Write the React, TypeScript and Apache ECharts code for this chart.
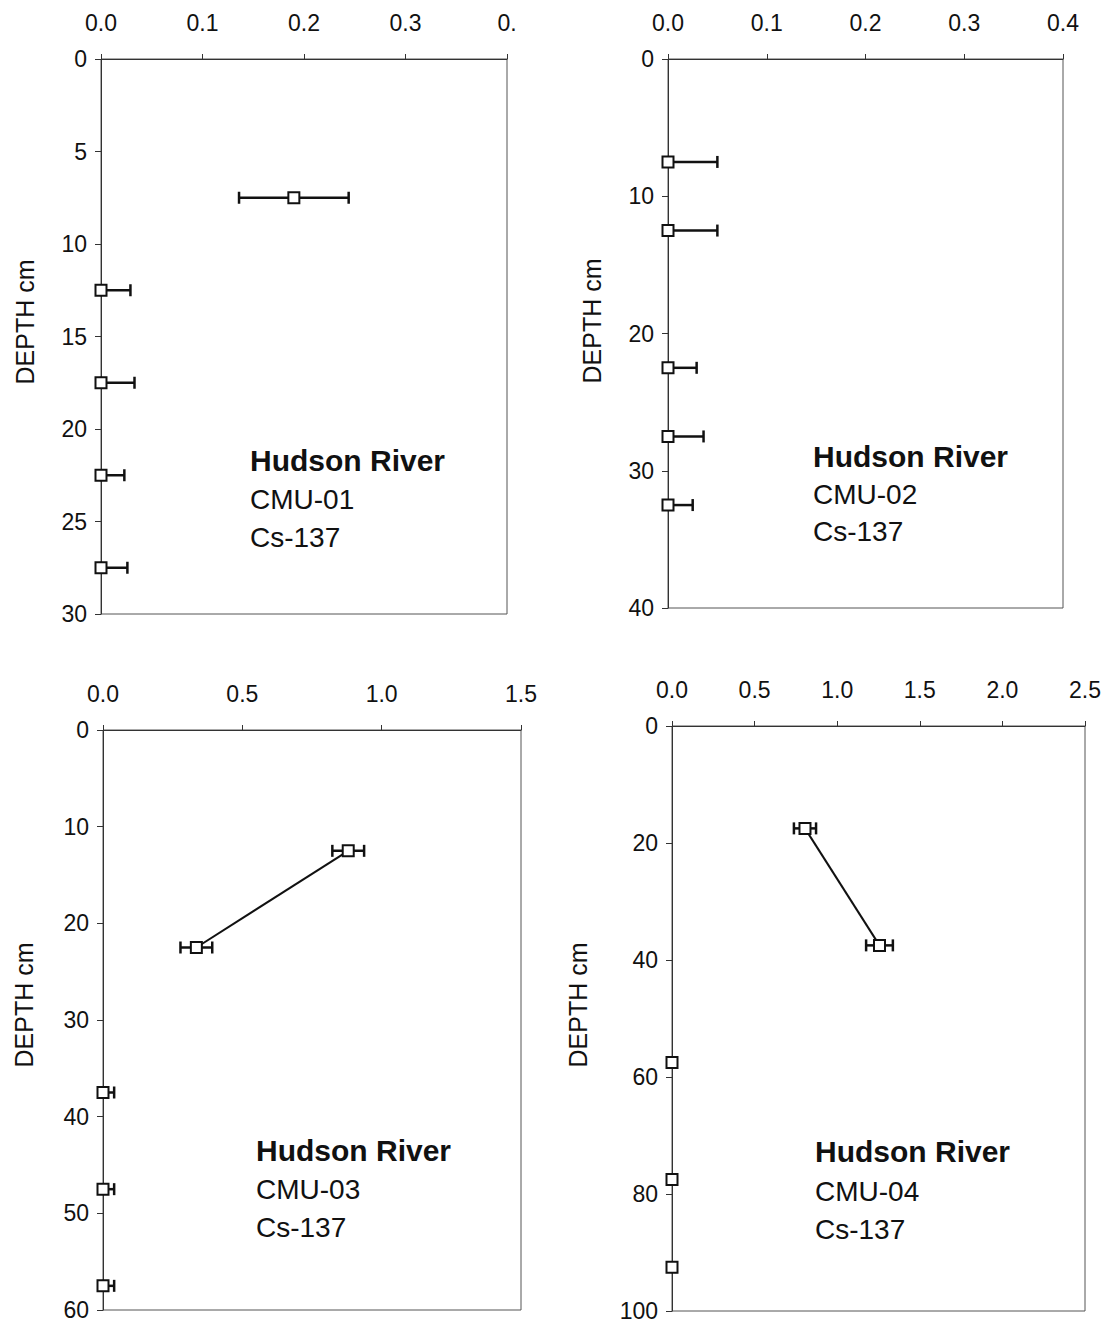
import React, { useEffect, useRef } from "react";
import * as echarts from "echarts";

// ---- Data ----
// Panel CMU-01
const depth1 = [7.5, 12.5, 17.5, 22.5, 27.5];
const cs1 = [0.19, 0, 0, 0, 0];
const err1 = [0.054, 0.029, 0.033, 0.023, 0.026];
const conn1 = [false, false, false, false, false];
const xTicks1 = ["0.0", "0.1", "0.2", "0.3", "0."];

// Panel CMU-02
const depth2 = [7.5, 12.5, 22.5, 27.5, 32.5];
const cs2 = [0, 0, 0, 0, 0];
const err2 = [0.05, 0.05, 0.029, 0.036, 0.025];
const conn2 = [false, false, false, false, false];
const xTicks2 = ["0.0", "0.1", "0.2", "0.3", "0.4"];

// Panel CMU-03
const depth3 = [12.5, 22.5, 37.5, 47.5, 57.5];
const cs3 = [0.88, 0.335, 0, 0, 0];
const err3 = [0.057, 0.057, 0.04, 0.04, 0.04];
const conn3 = [true, true, false, false, false];
const xTicks3 = ["0.0", "0.5", "1.0", "1.5"];

// Panel CMU-04
const depth4 = [17.5, 37.5, 57.5, 77.5, 92.5];
const cs4 = [0.805, 1.256, 0, 0, 0];
const err4 = [0.067, 0.081, 0.02, 0.02, 0.02];
const conn4 = [true, true, false, false, false];
const xTicks4 = ["0.0", "0.5", "1.0", "1.5", "2.0", "2.5"];

const siteTitle = "Hudson River";
const coreNames = ["CMU-01", "CMU-02", "CMU-03", "CMU-04"];
const isotope = "Cs-137";
const yAxisTitle = "DEPTH cm";

const FONT = "'Liberation Sans', Arial, Helvetica, sans-serif";

const panels = [
  {
    grid: { left: 101, top: 59, width: 406, height: 555 },
    xMax: 0.4, xInt: 0.1, yMax: 30, yInt: 5,
    depth: depth1, val: cs1, err: err1, conn: conn1, xTicks: xTicks1,
    nameX: 25, nameY: 322, textX: 250, textY: [460, 499, 537],
  },
  {
    grid: { left: 668, top: 59, width: 395, height: 549 },
    xMax: 0.4, xInt: 0.1, yMax: 40, yInt: 10,
    depth: depth2, val: cs2, err: err2, conn: conn2, xTicks: xTicks2,
    nameX: 592, nameY: 321, textX: 813, textY: [456, 494, 531],
  },
  {
    grid: { left: 103, top: 730, width: 418, height: 580 },
    xMax: 1.5, xInt: 0.5, yMax: 60, yInt: 10,
    depth: depth3, val: cs3, err: err3, conn: conn3, xTicks: xTicks3,
    nameX: 24, nameY: 1005, textX: 256, textY: [1150, 1189, 1227],
  },
  {
    grid: { left: 672, top: 726, width: 413, height: 585 },
    xMax: 2.5, xInt: 0.5, yMax: 100, yInt: 20,
    depth: depth4, val: cs4, err: err4, conn: conn4, xTicks: xTicks4,
    nameX: 578, nameY: 1005, textX: 815, textY: [1151, 1191, 1229],
  },
];

function buildOption() {
  const grids: any[] = [];
  const xAxes: any[] = [];
  const yAxes: any[] = [];
  const series: any[] = [];
  const graphics: any[] = [];

  panels.forEach((p, i) => {
    grids.push({
      ...p.grid,
      show: true,
      borderColor: "#555",
      borderWidth: 1,
      backgroundColor: "transparent",
    });
    xAxes.push({
      type: "value",
      gridIndex: i,
      position: "top",
      min: 0,
      max: p.xMax,
      interval: p.xInt,
      axisLine: { show: true, lineStyle: { color: "#333", width: 1 } },
      axisTick: { show: true, inside: false, length: 5, lineStyle: { color: "#333" } },
      splitLine: { show: false },
      axisLabel: {
        margin: 25,
        color: "#111",
        fontFamily: FONT,
        fontSize: 23,
        formatter: (_v: number, idx: number) => p.xTicks[idx] ?? "",
      },
    });
    yAxes.push({
      type: "value",
      gridIndex: i,
      inverse: true,
      min: 0,
      max: p.yMax,
      interval: p.yInt,
      axisLine: { show: true, lineStyle: { color: "#333", width: 1 } },
      axisTick: { show: true, inside: false, length: 6, lineStyle: { color: "#333" } },
      splitLine: { show: false },
      axisLabel: {
        margin: 14,
        color: "#111",
        fontFamily: FONT,
        fontSize: 23,
      },
    });

    const pts = p.depth.map((d, k) => [p.val[k], d]);
    const bars = p.depth.map((d, k) => [
      p.val[k],
      d,
      Math.max(0, p.val[k] - p.err[k]),
      p.val[k] + p.err[k],
    ]);
    const linePts = pts.filter((_, k) => p.conn[k]);

    if (linePts.length > 1) {
      series.push({
        type: "line",
        xAxisIndex: i,
        yAxisIndex: i,
        data: linePts,
        symbol: "none",
        lineStyle: { color: "#111", width: 2 },
        z: 2,
        silent: true,
      });
    }

    series.push({
      type: "custom",
      xAxisIndex: i,
      yAxisIndex: i,
      data: bars,
      encode: { x: 0, y: 1 },
      z: 3,
      silent: true,
      renderItem: (_params: any, api: any) => {
        const y = api.value(1);
        const a = api.coord([api.value(2), y]);
        const b = api.coord([api.value(3), y]);
        const h = 6;
        const st = { stroke: "#111", lineWidth: 2.5 };
        return {
          type: "group",
          children: [
            { type: "line", shape: { x1: a[0], y1: a[1], x2: b[0], y2: b[1] }, style: st },
            { type: "line", shape: { x1: a[0], y1: a[1] - h, x2: a[0], y2: a[1] + h }, style: st },
            { type: "line", shape: { x1: b[0], y1: b[1] - h, x2: b[0], y2: b[1] + h }, style: st },
          ],
        };
      },
    });

    series.push({
      type: "scatter",
      xAxisIndex: i,
      yAxisIndex: i,
      data: pts,
      symbol: "rect",
      symbolSize: 11,
      itemStyle: { color: "#ffffff", borderColor: "#111", borderWidth: 2, opacity: 1 },
      z: 4,
      silent: true,
    });

    graphics.push({
      type: "text",
      x: p.nameX,
      y: p.nameY,
      rotation: Math.PI / 2,
      style: {
        text: yAxisTitle,
        fontFamily: FONT,
        fontSize: 25,
        fill: "#111",
        align: "center",
        verticalAlign: "middle",
      },
    });
    const lines = [siteTitle, coreNames[i], isotope];
    lines.forEach((t, li) => {
      graphics.push({
        type: "text",
        x: p.textX,
        y: p.textY[li],
        style: {
          text: t,
          fontFamily: FONT,
          fontSize: li === 0 ? 30 : 28,
          fontWeight: li === 0 ? "bold" : "normal",
          fill: "#111",
          align: "left",
          verticalAlign: "middle",
        },
      });
    });
  });

  return {
    animation: false,
    backgroundColor: "#fff",
    grid: grids,
    xAxis: xAxes,
    yAxis: yAxes,
    series,
    graphic: graphics,
  };
}

export default function App() {
  const ref = useRef<HTMLDivElement>(null);
  useEffect(() => {
    if (!ref.current) return;
    const chart = echarts.init(ref.current, undefined, { renderer: "svg" });
    chart.setOption(buildOption() as any);
    return () => chart.dispose();
  }, []);
  return (
    <div
      ref={ref}
      style={{ position: "absolute", left: 0, top: 0, width: 1108, height: 1325, background: "#fff" }}
    />
  );
}
